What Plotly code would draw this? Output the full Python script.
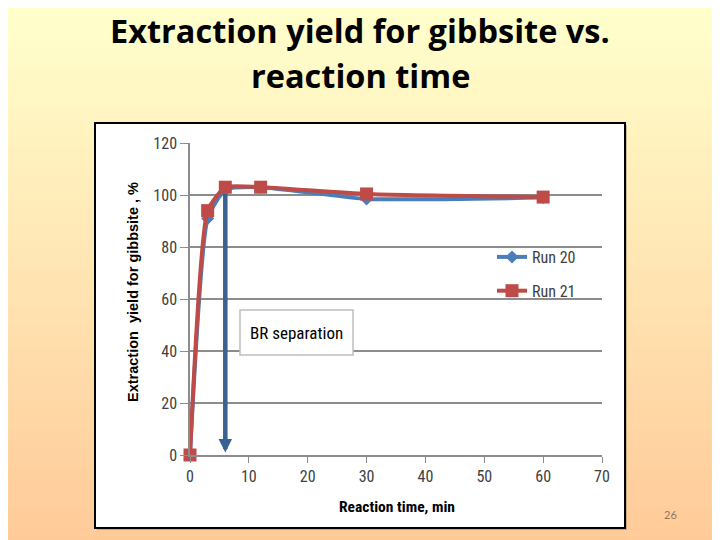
import plotly.graph_objects as go

# ---- data ----
time_min = [0, 3, 6, 12, 30, 60]
run20 = [0, 91, 102, 103, 98.5, 99]
run21 = [0, 94, 103, 103, 100.4, 99.2]
x_ticks = [0, 10, 20, 30, 40, 50, 60, 70]
y_ticks = [0, 20, 40, 60, 80, 100, 120]
arrow_x = 6
arrow_from = 101
arrow_to = 1

W, H = 720, 540
OX, OY = 8, 8  # page offset of the plot div inside the browser window


def xp(px):
    return (px - OX) / W


def yp(py):
    return 1 - (py - OY) / H


fig = go.Figure()

fig.add_trace(go.Scatter(
    x=time_min, y=run20, name="Run 20", mode="lines+markers", cliponaxis=False,
    line=dict(color="#4A7EBB", width=4, shape="spline", smoothing=0.5),
    marker=dict(symbol="diamond", size=10, color="#4A7EBB"),
    legendgroup="a"))
fig.add_trace(go.Scatter(
    x=time_min, y=run21, name="Run 21", mode="lines+markers", cliponaxis=False,
    line=dict(color="#BE4B48", width=4, shape="spline", smoothing=0.5),
    marker=dict(symbol="square", size=13, color="#BE4B48"),
    legendgroup="b"))

shapes = []
# background vertical gradient (light yellow -> peach)
n = 108
top = (255, 255, 204)
bot = (255, 202, 152)
for i in range(n):
    t = i / (n - 1)
    c = tuple(round(top[k] + (bot[k] - top[k]) * t) for k in range(3))
    shapes.append(dict(type="rect", xref="paper", yref="paper",
                       x0=0, x1=1, y0=1 - (i + 1) / n - 0.001, y1=1 - i / n,
                       fillcolor="rgb(%d,%d,%d)" % c, line=dict(width=0),
                       layer="below"))
# chart frame shadow + frame
shapes.append(dict(type="rect", xref="paper", yref="paper",
                   x0=xp(97), x1=xp(627), y0=yp(530), y1=yp(125),
                   fillcolor="rgba(110,90,70,0.35)", line=dict(width=0), layer="below"))
shapes.append(dict(type="rect", xref="paper", yref="paper",
                   x0=xp(95), x1=xp(625), y0=yp(528), y1=yp(123),
                   fillcolor="white", line=dict(color="black", width=2), layer="below"))
# BR separation box
shapes.append(dict(type="rect", xref="paper", yref="paper",
                   x0=xp(240), x1=xp(353), y0=yp(355), y1=yp(310),
                   fillcolor="white", line=dict(color="#BFBFBF", width=1.5)))

narrow = "Liberation Sans Narrow, Roboto Condensed, Arial Narrow, sans-serif"
tick_font = dict(family=narrow, size=16, color="#404040")


def label(px, py, text, font, **kw):
    d = dict(x=xp(px), y=yp(py), xref="paper", yref="paper", text=text,
             showarrow=False, xanchor="center", yanchor="middle", font=font)
    d.update(kw)
    return d


fig.update_layout(
    width=W, height=H, margin=dict(l=0, r=0, t=0, b=0, pad=0, autoexpand=False),
    paper_bgcolor="rgb(255,240,195)", plot_bgcolor="rgba(0,0,0,0)",
    shapes=shapes, showlegend=True,
    legend=dict(x=xp(492), y=yp(240), xanchor="left", yanchor="top",
                bgcolor="rgba(0,0,0,0)", tracegroupgap=10, traceorder="grouped",
                font=dict(family=narrow, size=16, color="#404040")),
    xaxis=dict(domain=[xp(190), xp(602)], range=[0, 70], tickvals=x_ticks,
               automargin=False, showgrid=False, zeroline=False, showline=True,
               linecolor="#8C8C8C", linewidth=1.5, ticks="outside", ticklen=6,
               tickcolor="#8C8C8C", tickfont=tick_font),
    yaxis=dict(domain=[yp(455), yp(143)], range=[0, 120], tickvals=y_ticks,
               automargin=False, showgrid=True, gridcolor="#8C8C8C", gridwidth=1.5,
               zeroline=False, showline=True, linecolor="#8C8C8C", linewidth=1.5,
               ticks="outside", ticklen=8, tickcolor="#8C8C8C", tickfont=tick_font),
    annotations=[
        dict(x=arrow_x, y=arrow_to, ax=arrow_x, ay=arrow_from, xref="x", yref="y",
             axref="x", ayref="y", text="", showarrow=True, arrowhead=2,
             arrowsize=0.6, arrowwidth=4.5, arrowcolor="#3A6194"),
        label(296.5, 333, "BR separation",
              dict(family=narrow, size=17, color="#000000")),
        label(397, 507, "<b>Reaction time, min</b>",
              dict(family=narrow, size=15.5, color="#000000")),
        label(133, 292, "<b>Extraction  yield for gibbsite , %</b>",
              dict(family="Liberation Sans, Arial, sans-serif", size=14.5,
                   color="#000000"), textangle=-90),
        label(360, 30, "<b>Extraction yield for gibbsite vs.</b>",
              dict(family="Open Sans, Lato, sans-serif", size=32.5, color="#000000")),
        label(360, 75, "<b>reaction time</b>",
              dict(family="Open Sans, Lato, sans-serif", size=32.5, color="#000000")),
        label(670, 514, "26", dict(family="Lato, sans-serif", size=11, color="#8A7868")),
    ],
)

fig.write_html("out.html")
